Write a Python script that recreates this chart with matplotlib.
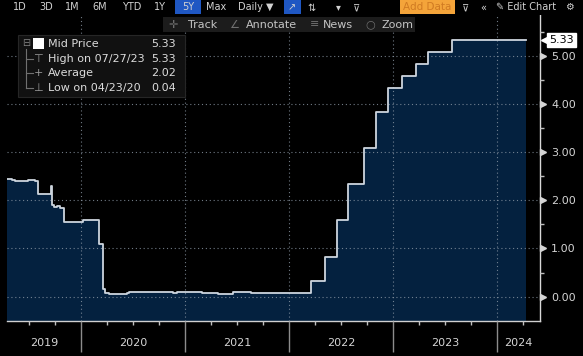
import numpy as np
import pandas as pd
import matplotlib
matplotlib.use("Agg")
import matplotlib.pyplot as plt
import matplotlib.dates as mdates
import matplotlib.transforms as mtransforms
from matplotlib.patches import Rectangle
from matplotlib.lines import Line2D

# mid price: date each new level starts, and the level
change_dates = [
    "2019-04-15", "2019-05-02", "2019-05-13", "2019-06-28", "2019-07-22",
    "2019-08-01", "2019-09-17", "2019-09-19", "2019-09-26", "2019-10-09",
    "2019-10-17", "2019-10-31", "2019-11-01", "2020-01-08", "2020-02-03",
    "2020-03-04", "2020-03-16", "2020-03-17", "2020-03-24", "2020-04-06",
    "2020-06-08", "2020-06-15", "2020-11-20", "2020-12-03", "2021-03-01",
    "2021-04-26", "2021-06-17", "2021-08-20", "2022-03-17", "2022-05-05",
    "2022-06-16", "2022-07-28", "2022-09-22", "2022-11-03", "2022-12-15",
    "2023-02-02", "2023-03-23", "2023-05-04", "2023-07-27",
]
change_values = [
    2.44, 2.41, 2.39, 2.41, 2.40,
    2.13, 2.30, 1.90, 1.85, 1.88,
    1.83, 1.58, 1.55, 1.58, 1.59,
    1.09, 0.25, 0.15, 0.08, 0.05,
    0.08, 0.09, 0.08, 0.09, 0.08,
    0.06, 0.10, 0.08, 0.33, 0.83,
    1.58, 2.33, 3.08, 3.83, 4.33,
    4.58, 4.83, 5.08, 5.33,
]
last_date = "2024-04-12"

years = [2019, 2020, 2021, 2022, 2023, 2024]
yticks = [0, 1, 2, 3, 4, 5]
legend_names = ["Mid Price", "High on 07/27/23", "Average", "Low on 04/23/20"]
legend_values = ["5.33", "5.33", "2.02", "0.04"]
last_label = "5.33"

x_start, x_end = "2019-04-15", "2024-05-31"

dates = pd.to_datetime(change_dates + [last_date])
values = np.array(change_values + [change_values[-1]])

W, H = 583, 356
fig = plt.figure(figsize=(W / 100, H / 100), dpi=100, facecolor="black")


def fx(x):
    return x / W


def fy(y):
    return 1 - y / H


ax = fig.add_axes([fx(7), fy(320.7), 533 / W, 320.7 / H])
ax.set_facecolor("black")

ymin, ymax = -0.5, 6.156
ax.fill_between(dates, values, ymin, step="post", color="#04213f", lw=0, zorder=1)
ax.plot(dates, values, drawstyle="steps-post", color="#cdd5de", lw=1.3, zorder=3)

ax.set_xlim(pd.Timestamp(x_start), pd.Timestamp(x_end))
ax.set_ylim(ymin, ymax)

for s in ["left", "top"]:
    ax.spines[s].set_visible(False)
ax.spines["bottom"].set_color("#d0d0d0")
ax.spines["right"].set_color("#d8d8d8")
ax.spines["bottom"].set_linewidth(1.0)
ax.spines["right"].set_linewidth(1.0)

# x axis: year separators at Jan 1, quarterly minor ticks
ax.xaxis.set_major_locator(mdates.YearLocator())
ax.xaxis.set_major_formatter(plt.NullFormatter())
ax.xaxis.set_minor_locator(mdates.MonthLocator(bymonth=[4, 7, 10]))
ax.tick_params(axis="x", which="major", length=22, width=1, color="#8c8c8c", direction="out")
ax.tick_params(axis="x", which="minor", length=3, width=1, color="#c0c0c0", direction="out")

lo, hi = ax.get_xlim()
for yr in years:
    a = max(mdates.date2num(pd.Timestamp(f"{yr}-01-01")), lo)
    b = min(mdates.date2num(pd.Timestamp(f"{yr + 1}-01-01")), hi)
    ax.text((a + b) / 2, -0.069, str(yr), transform=ax.get_xaxis_transform(),
            ha="center", va="center", fontsize=8, color="#d4d4d4")

# y axis on the right
ax.yaxis.tick_right()
ax.set_yticks(yticks)
ax.set_yticklabels([f"{v:.2f}" for v in yticks])
ax.set_yticks([v + 0.5 for v in yticks], minor=True)
ax.tick_params(axis="y", which="major", length=0, pad=8, labelsize=8, labelcolor="#d4d4d4")
ax.tick_params(axis="y", which="minor", length=3, width=1, color="#bdbdbd")

ytrans = ax.get_yaxis_transform()
tri = ytrans + mtransforms.ScaledTranslation(3 / 100, 0, fig.dpi_scale_trans)
ax.plot(np.ones(len(yticks)), yticks, ls="none", marker=">", ms=4,
        color="#d4d4d4", transform=tri, clip_on=False, zorder=5)

ax.grid(True, which="major", color="#8d99a6", lw=0.8, ls=(0, (1, 2.5)), alpha=0.8)
ax.set_axisbelow(False)

# last price tag
tag = ytrans + mtransforms.ScaledTranslation(9 / 100, 0, fig.dpi_scale_trans)
ax.text(1, values[-1], last_label, transform=tag, ha="left", va="center",
        fontsize=8, color="black", clip_on=False, zorder=6,
        bbox=dict(boxstyle="square,pad=0.2", fc="white", ec="white"))
arrow = ytrans + mtransforms.ScaledTranslation(5 / 100, 0, fig.dpi_scale_trans)
ax.plot([1], [values[-1]], marker="<", ms=5.5, color="white", ls="none",
        transform=arrow, clip_on=False, zorder=5.5)

# toolbar row 1
fig.add_artist(Rectangle((0, fy(15)), 1, 15 / H, transform=fig.transFigure,
                         fc="black", ec="none", zorder=2))
fig.add_artist(Rectangle((fx(175), fy(14)), 26 / W, 14 / H, transform=fig.transFigure,
                         fc="#1f57c3", ec="none", zorder=3))
fig.add_artist(Rectangle((fx(284), fy(14)), 17 / W, 14 / H, transform=fig.transFigure,
                         fc="#1f57c3", ec="none", zorder=3))
fig.add_artist(Rectangle((fx(400), fy(14)), 55 / W, 14 / H, transform=fig.transFigure,
                         fc="#f4a43a", ec="none", zorder=3))
row1 = [("1D", 20), ("3D", 46), ("1M", 72), ("6M", 100), ("YTD", 132),
        ("1Y", 160), ("5Y", 188), ("Max", 216), ("Daily ▼", 256), ("↗", 292),
        ("⇅", 312), ("▾", 338), ("⊽", 357), ("⊽", 466), ("«", 483),
        ("✎ Edit Chart", 526), ("⚙", 569)]
for s, x in row1:
    fig.text(fx(x), fy(7.5), s, ha="center", va="center", fontsize=7,
             color="#d2d2d2", zorder=4)
fig.text(fx(427), fy(7.5), "Add Data", ha="center", va="center", fontsize=7.5,
         color="#d07a22", zorder=4)

# toolbar row 2
fig.add_artist(Rectangle((fx(163), fy(32)), 252 / W, 15 / H, transform=fig.transFigure,
                         fc="#1c1c1c", ec="none", zorder=2))
row2 = [("✛", 173, "#6f6f6f"), ("Track", 203, "#c4c4c4"), ("∠", 234, "#6f6f6f"),
        ("Annotate", 271, "#c4c4c4"), ("≡", 315, "#6f6f6f"), ("News", 338, "#c4c4c4"),
        ("○", 370, "#6f6f6f"), ("Zoom", 398, "#c4c4c4")]
for s, x, c in row2:
    fig.text(fx(x), fy(24.5), s, ha="center", va="center", fontsize=8,
             color=c, zorder=4)

# legend panel
fig.add_artist(Rectangle((fx(18), fy(97)), 167 / W, 62 / H, transform=fig.transFigure,
                         fc="#111111", ec="#262626", lw=0.8, zorder=2))
row_y = [44, 59, 73, 88]
for name, val, y in zip(legend_names, legend_values, row_y):
    fig.text(fx(48), fy(y), name, ha="left", va="center", fontsize=8,
             color="#dcdcdc", zorder=4)
    fig.text(fx(176), fy(y), val, ha="right", va="center", fontsize=8,
             color="#dcdcdc", zorder=4)
fig.add_artist(Rectangle((fx(33), fy(49)), 11 / W, 11 / H, transform=fig.transFigure,
                         fc="white", ec="none", zorder=3))
fig.text(fx(26), fy(43), "⊟", ha="center", va="center", fontsize=7,
         color="#808080", zorder=4)
fig.add_artist(Line2D([fx(26), fx(26)], [fy(49), fy(88)], transform=fig.transFigure,
                      color="#707070", lw=0.8, zorder=3))
for y in row_y[1:]:
    fig.add_artist(Line2D([fx(26), fx(33)], [fy(y), fy(y)], transform=fig.transFigure,
                          color="#707070", lw=0.8, zorder=3))
for s, y in zip(["⊤", "+", "⊥"], row_y[1:]):
    fig.text(fx(38), fy(y), s, ha="center", va="center", fontsize=8,
             color="#9a9a9a", zorder=4)

fig.savefig("out.png", dpi=100, facecolor="black")
